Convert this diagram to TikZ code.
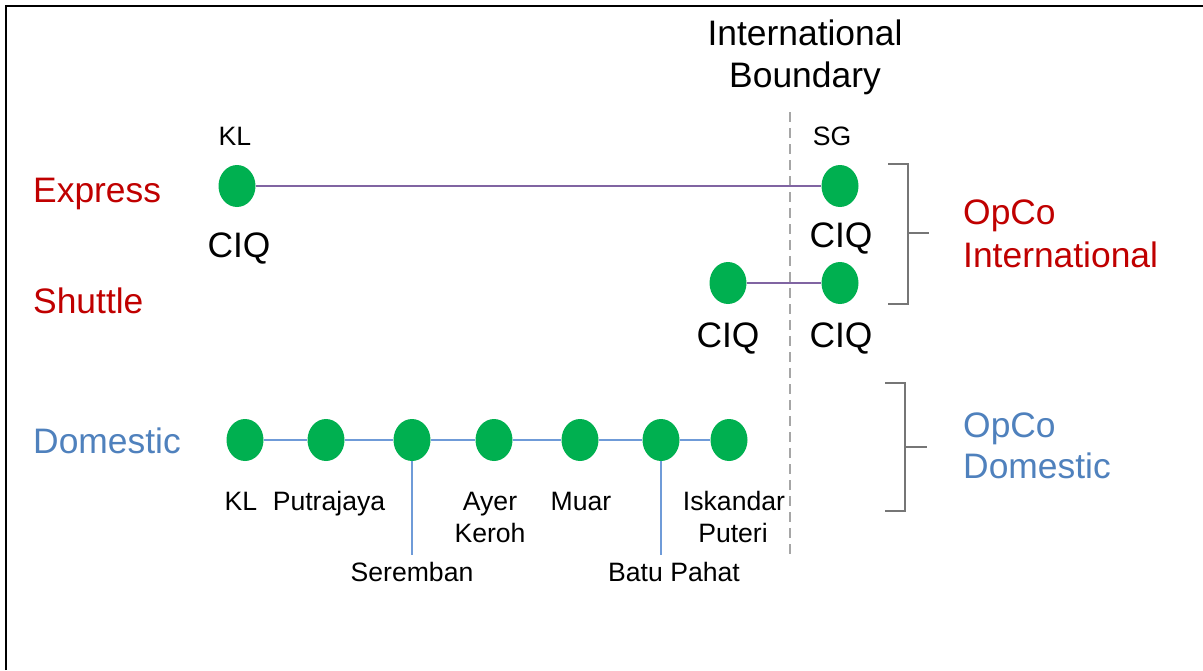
\documentclass[tikz,border=0pt]{standalone}
\usepackage{fontspec}
\setmainfont{Liberation Sans}
\usetikzlibrary{shapes.geometric}
\definecolor{stngreen}{HTML}{00B050}
\definecolor{expred}{HTML}{C00000}
\definecolor{domblue}{HTML}{4F81BD}
\definecolor{lineblue}{HTML}{6F9BD8}
\definecolor{linepurple}{HTML}{8064A2}
\definecolor{brgray}{HTML}{767676}
\definecolor{dashgray}{HTML}{A6A6A6}
\begin{document}
\begin{tikzpicture}[x=1pt,y=-1pt,
  stn/.style={ellipse,fill=stngreen,draw=none,minimum width=37pt,minimum height=42pt,inner sep=0pt},
  big/.style={font=\fontsize{35.4}{42}\selectfont,inner sep=0pt,anchor=base},
  bigl/.style={big,anchor=base west},
  small/.style={font=\fontsize{26.6}{32}\selectfont,inner sep=0pt,anchor=base},
  expline/.style={draw=linepurple,line width=2.2pt},
  shline/.style={draw=linepurple,line width=1.2pt},
  domline/.style={draw=lineblue,line width=2.2pt},
  bracket/.style={draw=brgray,line width=2pt},
  boundary/.style={draw=dashgray,line width=1.8pt,dash pattern=on 10pt off 6pt}]
\useasboundingbox (0,0) rectangle (1203,670);
\fill[white] (0,0) rectangle (1203,670);
\draw[line width=2.5pt] (6,670) -- (6,6) -- (1203,6);

% boundary
\coordinate (bt) at (790,112);
\coordinate (bb) at (790,558);
\draw[boundary] (bt) -- (bb);
\node[big] (ib1) at (805,45) {International};
\node[big] (ib2) at (805,87) {Boundary};

% express
\node[stn] (kle) at (237,186) {};
\node[stn] (sge) at (840,186) {};
\draw[expline] (kle) -- (sge);
\node[small] (kltop) at (235,145) {KL};
\node[small] (sgtop) at (832,145) {SG};
\node[big] (ciq1) at (239,257) {CIQ};
\node[big] (ciq2) at (841,247) {CIQ};

% shuttle
\node[stn] (shl) at (728,283) {};
\node[stn] (shr) at (840,283) {};
\draw[shline] (shl) -- (shr);
\node[big] (ciq3) at (728,347) {CIQ};
\node[big] (ciq4) at (841,347) {CIQ};

% row labels
\node[bigl,text=expred] (lexp) at (33,202) {Express};
\node[bigl,text=expred] (lsh) at (33,313) {Shuttle};
\node[bigl,text=domblue] (ldom) at (33,453) {Domestic};

% domestic
\node[stn] (d1) at (245,440) {};
\node[stn] (d2) at (326,440) {};
\node[stn] (d3) at (412,440) {};
\node[stn] (d4) at (494,440) {};
\node[stn] (d5) at (580,440) {};
\node[stn] (d6) at (661,440) {};
\node[stn] (d7) at (729,440) {};
\draw[domline] (d1) -- (d2);
\draw[domline] (d2) -- (d3);
\draw[domline] (d3) -- (d4);
\draw[domline] (d4) -- (d5);
\draw[domline] (d5) -- (d6);
\draw[domline] (d6) -- (d7);
\coordinate (sv) at (412,555);
\coordinate (bv) at (661,555);
\draw[domline] (d3.south) -- (sv);
\draw[domline] (d6.south) -- (bv);

\node[small] (tkl) at (241,510) {KL};
\node[small] (tpj) at (329,510) {Putrajaya};
\node[small] (tay1) at (490,510) {Ayer};
\node[small] (tay2) at (490,542) {Keroh};
\node[small] (tmu) at (581,510) {Muar};
\node[small] (tis1) at (734,510) {Iskandar};
\node[small] (tis2) at (733,542) {Puteri};
\node[small] (tse) at (412,581) {Seremban};
\node[small] (tbp) at (674,581) {Batu Pahat};

% brackets
\draw[bracket] (888,164) -- (908,164) -- (908,304) -- (888,304);
\draw[bracket] (908,233) -- (929,233);
\draw[bracket] (885,383) -- (905,383) -- (905,511) -- (885,511);
\draw[bracket] (905,447) -- (927,447);

\node[bigl,text=expred] (oi1) at (963,224) {OpCo};
\node[bigl,text=expred] (oi2) at (963,267) {International};
\node[bigl,text=domblue] (od1) at (963,437) {OpCo};
\node[bigl,text=domblue] (od2) at (963,478) {Domestic};
\end{tikzpicture}
\end{document}
